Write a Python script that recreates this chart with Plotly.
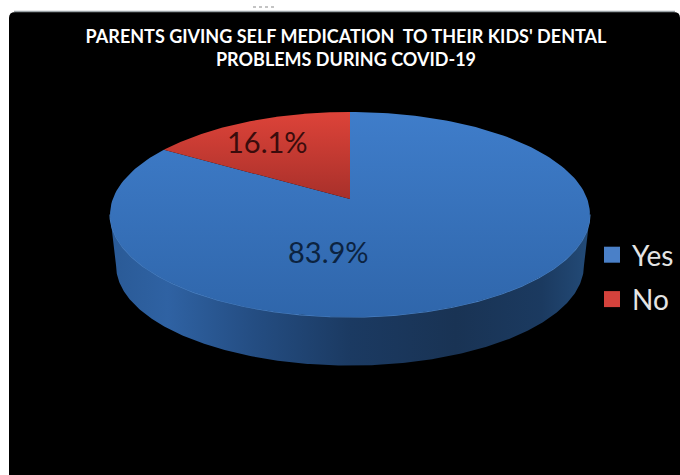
import numpy as np
import plotly.graph_objects as go

# Survey shares shown on the chart
categories = ["Yes", "No"]
shares = [83.9, 16.1]
title_lines = [
    "PARENTS GIVING SELF MEDICATION  TO THEIR KIDS' DENTAL",
    "PROBLEMS DURING COVID-19",
]

W, H = 680, 475
CX, APEX_Y = 350, 199      # pie centre as seen on the upper face
RX, RY, PERSP = 237.2, 100.2, 0.151
DEPTH_Y, DEPTH_SCALE = 51.5, 0.975


def project(theta, r=1.0, scale=1.0, dy=0.0):
    """Tilted-disc perspective: theta is clockwise from 12 o'clock, in radians."""
    u = r * np.sin(theta)
    v = r * np.cos(theta)
    d = 1 + PERSP * v
    return CX + scale * RX * u / d, APEX_Y + dy - scale * RY * v / d


def slice_path(start, end):
    th = np.linspace(start, end, 200)
    x, y = project(th)
    ax, ay = project(0.0, r=0.0)
    return np.r_[ax, x, ax], np.r_[ay, y, ay]


# Slices run clockwise from the top, with the second share ending at 12 o'clock
yes_angle = 2 * np.pi * shares[0] / sum(shares)

fig = go.Figure()

# Front wall of the disc, spanning between the silhouette tangents
tangent = np.arccos(-PERSP)
th = np.linspace(tangent, 2 * np.pi - tangent, 300)
tx, ty = project(th)
bx, by = project(th, scale=DEPTH_SCALE, dy=DEPTH_Y)
fig.add_trace(go.Scatter(
    x=np.r_[tx, bx[::-1]], y=np.r_[ty, by[::-1]],
    mode="lines", fill="toself", line=dict(width=0),
    fillgradient=dict(type="horizontal", colorscale=[
        [0, "#2a5a96"], [0.12, "#2f62a3"], [0.3, "#244d82"], [0.5, "#1b3a62"],
        [0.72, "#193354"], [0.9, "#1b3a60"], [1, "#234b78"]]),
    hoverinfo="skip", showlegend=False))

# Light rim along the front edge of the upper face
fig.add_trace(go.Scatter(
    x=tx, y=ty, mode="lines", line=dict(color="#4a80c2", width=1.2),
    hoverinfo="skip", showlegend=False))

# Upper face slices
yes_x, yes_y = slice_path(0, yes_angle)
fig.add_trace(go.Scatter(
    x=yes_x, y=yes_y, mode="lines", fill="toself", line=dict(width=0),
    fillgradient=dict(type="vertical", colorscale=[[0, "#2f66ab"], [1, "#3f7dca"]]),
    hoverinfo="skip", showlegend=False))
no_x, no_y = slice_path(yes_angle, 2 * np.pi)
fig.add_trace(go.Scatter(
    x=no_x, y=no_y, mode="lines", fill="toself", line=dict(width=0),
    fillgradient=dict(type="vertical", colorscale=[[0, "#a8302a"], [1, "#dd4339"]]),
    hoverinfo="skip", showlegend=False))

# Legend entries
for name, color in zip(categories, ["#4a80c8", "#d4423c"]):
    fig.add_trace(go.Scatter(
        x=[None], y=[None], mode="markers", name=name, legendgroup=name,
        marker=dict(symbol="square", size=18, color=color)))

# Percentage labels inside each slice
annotations = [
    dict(x=328, y=251, xref="x", yref="y", showarrow=False,
         text=f"{shares[0]:.1f}%", font=dict(family="Lato", size=29, color="#0c2340")),
    dict(x=267, y=141, xref="x", yref="y", showarrow=False,
         text=f"{shares[1]:.1f}%", font=dict(family="Lato", size=29, color="#3a0c0c")),
]

fig.update_layout(
    width=W, height=H,
    margin=dict(l=0, r=0, t=0, b=0, autoexpand=False),
    paper_bgcolor="white",
    plot_bgcolor="white",
    xaxis=dict(range=[0, W], visible=False, fixedrange=True),
    yaxis=dict(range=[H, 0], visible=False, fixedrange=True),
    title=dict(
        text="<b>" + "<br>".join(title_lines) + "</b>",
        x=346 / W, xanchor="center", y=1 - 42.5 / H, yanchor="middle",
        font=dict(family="Lato", size=18, color="white"),
    ),
    legend=dict(
        x=592 / W, xanchor="left", y=1 - 230 / H, yanchor="top",
        bgcolor="rgba(0,0,0,0)", tracegroupgap=5, itemwidth=30,
        font=dict(family="Lato", size=28, color="#e4e4e4"),
    ),
    shapes=[
        dict(type="path", layer="below", xref="x", yref="y",
             path="M 9 475 L 9 18 Q 9 12 15 12 L 674 12 Q 680 12 680 18 L 680 475 Z",
             fillcolor="black", line=dict(width=0)),
        dict(type="line", layer="below", xref="x", yref="y", x0=14, x1=675, y0=11.5, y1=11.5,
             line=dict(color="#9aa2a6", width=1.5)),
        dict(type="line", xref="x", yref="y", x0=253, x1=277, y0=7, y1=7,
             line=dict(color="#c4c4c4", width=2, dash="dot")),
    ],
    annotations=annotations,
)

fig.write_html("out.html", config={"displayModeBar": False})
